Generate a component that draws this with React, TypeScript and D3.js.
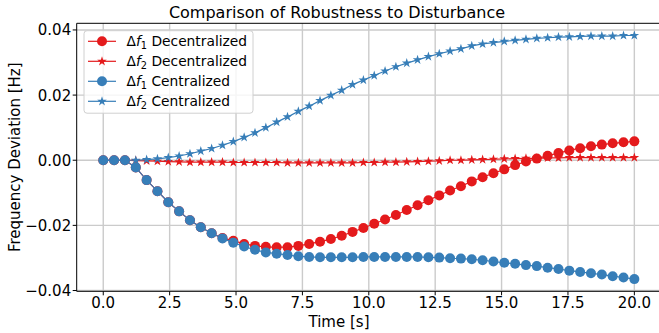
import React from "react";
import * as d3 from "d3";

// 50 samples, t = linspace(0, 20, 50)
const time = d3.range(50).map((i) => (i * 20) / 49);

const df1Decentralized = [
  0, 0, 0, -0.0022, -0.0061, -0.0095, -0.0129, -0.0157, -0.0184, -0.0206,
  -0.0224, -0.0239, -0.0247, -0.0257, -0.0263, -0.0266, -0.0267, -0.0267, -0.0263, -0.0257,
  -0.025, -0.0242, -0.0232, -0.022, -0.0208, -0.0195, -0.0182, -0.0168, -0.0153, -0.0138,
  -0.0123, -0.0108, -0.0093, -0.008, -0.0065, -0.0052, -0.004, -0.0028, -0.0015, -0.0004,
  0.0005, 0.0014, 0.0022, 0.003, 0.0037, 0.0043, 0.0048, 0.0052, 0.0055, 0.0058,
];

const df2Decentralized = [
  0, 0, 0, -0.0001, -0.0002, -0.0003, -0.0004, -0.0005, -0.0006, -0.0006,
  -0.0006, -0.0006, -0.0007, -0.0007, -0.0007, -0.0007, -0.0007, -0.0008, -0.0008, -0.0008,
  -0.0008, -0.0008, -0.0008, -0.0008, -0.0007, -0.0007, -0.0006, -0.0006, -0.0005, -0.0004,
  -0.0003, -0.0002, 0, 0, 0.0001, 0.0002, 0.0003, 0.0004, 0.0005, 0.0006,
  0.0006, 0.0007, 0.0007, 0.0008, 0.0008, 0.0008, 0.0008, 0.0008, 0.0008, 0.0008,
];

const df1Centralized = [
  0, 0, 0, -0.0022, -0.0061, -0.0095, -0.0129, -0.0157, -0.0184, -0.0206,
  -0.0224, -0.024, -0.0253, -0.0265, -0.0275, -0.0283, -0.0287, -0.0291, -0.0295, -0.0297,
  -0.0298, -0.0298, -0.0298, -0.0298, -0.0297, -0.0297, -0.0297, -0.0297, -0.0297, -0.0297,
  -0.0298, -0.0299, -0.0301, -0.0302, -0.0304, -0.0307, -0.0311, -0.0315, -0.0318, -0.0322,
  -0.0325, -0.033, -0.0334, -0.0339, -0.0343, -0.0347, -0.0351, -0.0356, -0.036, -0.0365,
];

const df2Centralized = [
  0, 0, 0, 0, 0.0002, 0.0004, 0.0008, 0.0013, 0.002, 0.0028,
  0.0036, 0.0046, 0.0057, 0.007, 0.0084, 0.01, 0.0117, 0.0133, 0.015, 0.0166,
  0.0183, 0.0199, 0.0215, 0.0232, 0.0246, 0.026, 0.0274, 0.0287, 0.0298, 0.0308,
  0.0318, 0.0327, 0.0335, 0.0342, 0.0351, 0.0357, 0.0361, 0.0365, 0.0368, 0.0371,
  0.0374, 0.0376, 0.0378, 0.0379, 0.038, 0.0381, 0.0381, 0.0381, 0.0383, 0.0383,
];

const xTicks = [0, 2.5, 5, 7.5, 10, 12.5, 15, 17.5, 20];
const yTicks = [-0.04, -0.02, 0, 0.02, 0.04];

const RED = "#e41a1c";
const BLUE = "#377eb8";

const series = [
  { values: df1Decentralized, color: RED, marker: "circle", sub: "1", name: "Decentralized" },
  { values: df2Decentralized, color: RED, marker: "star", sub: "2", name: "Decentralized" },
  { values: df1Centralized, color: BLUE, marker: "circle", sub: "1", name: "Centralized" },
  { values: df2Centralized, color: BLUE, marker: "star", sub: "2", name: "Centralized" },
];

const W = 659;
const H = 333;
const left = 76.7;
const right = 660.9;
const top = 23.3;
const bottom = 291.3;
const font = "DejaVu Sans, sans-serif";
const labelCenter = 339;

const starPath = d3.symbol().type(d3.symbolStar).size(29)()!;

const Marker = ({ type, x, y, color }) =>
  type === "circle" ? (
    <circle cx={x} cy={y} r={5} fill={color} />
  ) : (
    <path d={starPath} transform={`translate(${x},${y})`} fill={color} />
  );

export default function App() {
  const allValues = series.flatMap((s) => s.values);
  const yMin = d3.min(allValues)!;
  const yMax = d3.max(allValues)!;
  const pad = (yMax - yMin) * 0.05;

  const x = d3.scaleLinear().domain([-1, 21]).range([left, right]);
  const y = d3.scaleLinear().domain([yMin - pad, yMax + pad]).range([bottom, top]);

  const line = d3
    .line<number>()
    .x((_, i) => x(time[i]))
    .y((v) => y(v));

  const fmtY = (v: number) => d3.format(".2f")(v).replace("-", "\u2212");

  return (
    <svg
      width={W}
      height={H}
      style={{ position: "absolute", left: 0, top: 0, background: "#fff" }}
      fontFamily={font}
    >
      <defs>
        <clipPath id="plot">
          <rect x={left} y={top} width={right - left} height={bottom - top} />
        </clipPath>
      </defs>

      {/* grid */}
      {xTicks.map((t) => (
        <line key={"gx" + t} x1={x(t)} x2={x(t)} y1={top} y2={bottom} stroke="#cbcbcb" strokeWidth={1.4} />
      ))}
      {yTicks.map((t) => (
        <line key={"gy" + t} x1={left} x2={right} y1={y(t)} y2={y(t)} stroke="#cbcbcb" strokeWidth={1.4} />
      ))}

      {/* data */}
      <g clipPath="url(#plot)">
        {series.map((s, si) => (
          <g key={si}>
            <path d={line(s.values)!} fill="none" stroke={s.color} strokeWidth={1.2} />
            {s.values.map((v, i) => (
              <Marker key={i} type={s.marker} x={x(time[i])} y={y(v)} color={s.color} />
            ))}
          </g>
        ))}
      </g>

      {/* spines */}
      <line x1={left} x2={left} y1={top} y2={bottom} stroke="#000" strokeWidth={1} />
      <line x1={left} x2={right} y1={bottom} y2={bottom} stroke="#000" strokeWidth={1} />
      <line x1={left} x2={right} y1={top} y2={top} stroke="#000" strokeWidth={1} />
      <line x1={right} x2={right} y1={top} y2={bottom} stroke="#000" strokeWidth={1} />

      {/* x ticks */}
      {xTicks.map((t) => (
        <g key={"xt" + t}>
          <line x1={x(t)} x2={x(t)} y1={bottom} y2={bottom + 4} stroke="#000" strokeWidth={1} />
          <text x={x(t)} y={bottom + 17} textAnchor="middle" fontSize={15} fill="#000">
            {d3.format(".1f")(t)}
          </text>
        </g>
      ))}

      {/* y ticks */}
      {yTicks.map((t) => (
        <g key={"yt" + t}>
          <line x1={left - 4} x2={left} y1={y(t)} y2={y(t)} stroke="#000" strokeWidth={1} />
          <text x={left - 5.5} y={y(t) + 5.5} textAnchor="end" fontSize={15} fill="#000">
            {fmtY(t)}
          </text>
        </g>
      ))}

      {/* labels */}
      <text x={labelCenter} y={327} textAnchor="middle" fontSize={15} fill="#000">
        Time [s]
      </text>
      <text
        transform={`translate(19.5,${(top + bottom) / 2}) rotate(-90)`}
        textAnchor="middle"
        fontSize={15}
        fill="#000"
      >
        Frequency Deviation [Hz]
      </text>
      <text x={labelCenter - 2} y={18} textAnchor="middle" fontSize={16} fill="#000">
        Comparison of Robustness to Disturbance
      </text>

      {/* legend */}
      <rect x={84} y={30.7} width={169} height={82.5} rx={3} fill="#fff" fillOpacity={0.8} stroke="#d0d0d0" strokeWidth={1} />
      {series.map((s, i) => {
        const ly = 41.3 + i * 20;
        return (
          <g key={"lg" + i}>
            <line x1={88} x2={116} y1={ly} y2={ly} stroke={s.color} strokeWidth={1.2} />
            <Marker type={s.marker} x={102} y={ly} color={s.color} />
            <text x={126.5} y={ly + 5} fontSize={13.8} fill="#000">
              Δ<tspan fontStyle="italic">f</tspan>
              <tspan dy={3} fontSize={9.8}>{s.sub}</tspan>
              <tspan dy={-3}> {s.name}</tspan>
            </text>
          </g>
        );
      })}
    </svg>
  );
}
